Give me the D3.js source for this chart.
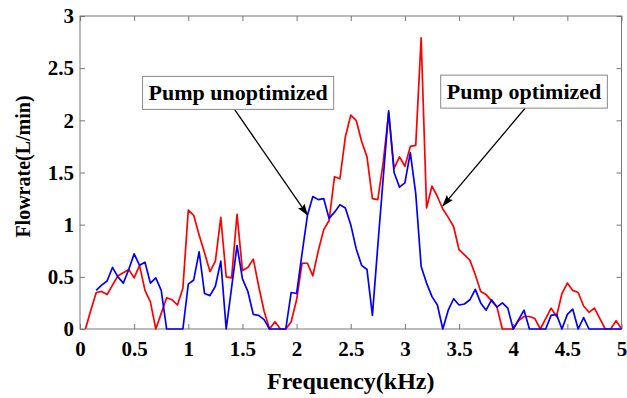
<!DOCTYPE html>
<html>
<head>
<meta charset="utf-8">
<script src="https://cdn.jsdelivr.net/npm/d3@7"></script>
<style>
  html, body { margin: 0; padding: 0; background: #fff; }
  svg { display: block; }
  text { font-family: "Liberation Serif", "Times New Roman", serif; font-weight: bold; }
</style>
</head>
<body>
<svg id="chart" width="627" height="398"></svg>
<script>
// ---- data ----
const freq = [0,0.05,0.1,0.15,0.2,0.25,0.3,0.35,0.4,0.45,0.5,0.55,0.6,0.65,0.7,0.75,0.8,0.85,0.9,0.95,
  1,1.05,1.1,1.15,1.2,1.25,1.3,1.35,1.4,1.45,1.5,1.55,1.6,1.65,1.7,1.75,1.8,1.85,1.9,1.95,
  2,2.05,2.1,2.15,2.2,2.25,2.3,2.35,2.4,2.45,2.5,2.55,2.6,2.65,2.7,2.75,2.8,2.85,2.9,2.95,
  3,3.05,3.1,3.15,3.2,3.25,3.3,3.35,3.4,3.45,3.5,3.55,3.6,3.65,3.7,3.75,3.8,3.85,3.9,3.95,
  4,4.05,4.1,4.15,4.2,4.25,4.3,4.35,4.4,4.45,4.5,4.55,4.6,4.65,4.7,4.75,4.8,4.85,4.9,4.95,5];

const optimized = [null,0,0.18,0.35,0.36,0.33,0.42,0.51,0.54,0.57,0.49,0.61,0.37,0.26,0,0.15,0.30,0.28,0.23,0.39,
  1.14,1.09,0.90,0.73,0.55,0.65,1.07,0.50,0.49,1.10,0.56,0.59,0.67,0.41,0.17,0,0.07,0,0,0.07,
  0.28,0.63,0.63,0.51,0.75,0.95,1.04,1.46,1.44,1.84,2.05,2.00,1.80,1.65,1.25,1.24,1.60,2.07,1.54,1.65,
  1.56,1.75,1.76,2.79,1.16,1.37,1.27,1.15,1.07,0.98,0.76,0.71,0.66,0.52,0.36,0.33,0.27,0.21,0,0,
  0,0.08,0.12,0.12,0.10,0,0.10,0.20,0.12,0.34,0.44,0.37,0.35,0.22,0.16,0.20,0.10,0,0,0.08,0];

const unoptimized = [null,null,null,0.37,0.42,0.46,0.59,0.50,0.44,0.57,0.72,0.61,0.64,0.44,0.49,0.37,0,0,0,0,
  0.43,0.47,0.74,0.34,0.32,0.41,0.65,0,0.40,0.80,0.48,0.36,0.14,0.13,0.09,0,0,0,0,0.35,
  0.34,0.72,1.09,1.27,1.24,1.25,1.06,1.12,1.19,1.16,1.00,0.77,0.61,0.57,0.13,0.80,1.45,2.09,1.50,1.36,
  1.40,1.69,1.30,0.60,0.44,0.31,0.23,0,0.18,0.29,0.23,0.24,0.28,0.38,0.25,0.18,0.28,0.21,0.25,0.20,
  0,0.09,0.18,0,0,0,0,0.13,0.14,0,0.14,0.19,0,0.11,0,0,0,0,0,0,0];

const xTicks = [0,0.5,1,1.5,2,2.5,3,3.5,4,4.5,5];
const yTicks = [0,0.5,1,1.5,2,2.5,3];

const annoLabels = ["Pump unoptimized", "Pump optimized"];
const annoCenter = [[1.46, 2.263], [4.10, 2.275]];
const arrowFrom  = [[1.43, 2.10], [4.11, 2.116]];
const arrowTo    = [[2.10, 1.093], [3.35, 1.18]];

// ---- drawing ----
const W = 627, H = 398;
const m = {l: 80, r: 5.5, t: 16, b: 69};
const svg = d3.select("#chart");
const x = d3.scaleLinear().domain([0, 5]).range([m.l, W - m.r]);
const y = d3.scaleLinear().domain([0, 3]).range([H - m.b, m.t]);
const axisColor = "#777";
const fmt = d3.format("");

// frame
svg.append("rect")
  .attr("x", x(0)).attr("y", y(3))
  .attr("width", x(5) - x(0)).attr("height", y(0) - y(3))
  .attr("fill", "none").attr("stroke", axisColor).attr("stroke-width", 1);

function styleAxis(g, showLabels) {
  g.select(".domain").remove();
  g.selectAll(".tick line").attr("stroke", axisColor);
  g.selectAll(".tick text")
    .attr("fill", "#000")
    .style("font-size", "21px")
    .style("font-family", '"Liberation Serif", "Times New Roman", serif')
    .style("font-weight", "bold");
  if (!showLabels) g.selectAll(".tick text").remove();
}

svg.append("g").attr("transform", `translate(0,${y(0)})`)
  .call(d3.axisBottom(x).tickValues(xTicks).tickFormat(fmt).tickSizeInner(-5).tickSizeOuter(0).tickPadding(12))
  .call(g => styleAxis(g, true));
svg.append("g").attr("transform", `translate(0,${y(3)})`)
  .call(d3.axisTop(x).tickValues(xTicks).tickSizeInner(-5).tickSizeOuter(0))
  .call(g => styleAxis(g, false));
svg.append("g").attr("transform", `translate(${x(0)},0)`)
  .call(d3.axisLeft(y).tickValues(yTicks).tickFormat(fmt).tickSizeInner(-5).tickSizeOuter(0).tickPadding(6))
  .call(g => styleAxis(g, true));
svg.append("g").attr("transform", `translate(${x(5)},0)`)
  .call(d3.axisRight(y).tickValues(yTicks).tickSizeInner(-5).tickSizeOuter(0))
  .call(g => styleAxis(g, false));

// lines
const line = d3.line()
  .defined(d => d[1] !== null)
  .x(d => x(d[0])).y(d => y(d[1]));

svg.append("path")
  .datum(freq.map((f, i) => [f, optimized[i]]))
  .attr("d", line).attr("fill", "none")
  .attr("stroke", "#ff0000").attr("stroke-width", 1.7).attr("stroke-linejoin", "round");

svg.append("path")
  .datum(freq.map((f, i) => [f, unoptimized[i]]))
  .attr("d", line).attr("fill", "none")
  .attr("stroke", "#0000ff").attr("stroke-width", 1.7).attr("stroke-linejoin", "round");

// axis titles
svg.append("text")
  .attr("x", (x(0) + x(5)) / 2).attr("y", 389)
  .attr("text-anchor", "middle")
  .style("font-size", "24px")
  .text("Frequency(kHz)");

svg.append("text")
  .attr("transform", `translate(30,${(y(0) + y(3)) / 2 - 6}) rotate(-90)`)
  .attr("text-anchor", "middle")
  .style("font-size", "20px")
  .text("Flowrate(L/min)");

// arrows
const defs = svg.append("defs");
defs.append("marker")
  .attr("id", "arrow").attr("markerUnits", "userSpaceOnUse")
  .attr("viewBox", "0 0 12 8").attr("refX", 11).attr("refY", 4)
  .attr("markerWidth", 12).attr("markerHeight", 8).attr("orient", "auto")
  .append("path").attr("d", "M0,0 L12,4 L0,8 L2,4 Z").attr("fill", "#000");

annoLabels.forEach((lab, i) => {
  svg.append("line")
    .attr("x1", x(arrowFrom[i][0])).attr("y1", y(arrowFrom[i][1]))
    .attr("x2", x(arrowTo[i][0])).attr("y2", y(arrowTo[i][1]))
    .attr("stroke", "#000").attr("stroke-width", 1.3)
    .attr("marker-end", "url(#arrow)");
});

annoLabels.forEach((lab, i) => {
  const g = svg.append("g");
  const cx = x(annoCenter[i][0]), cy = y(annoCenter[i][1]);
  const rect = g.append("rect");
  const t = g.append("text")
    .attr("x", cx).attr("y", cy + 7)
    .attr("text-anchor", "middle")
    .style("font-size", "22px")
    .text(lab);
  const bb = t.node().getBBox();
  rect.attr("x", bb.x - 6).attr("y", cy - 16.5)
    .attr("width", bb.width + 12).attr("height", 33)
    .attr("fill", "#fff").attr("stroke", "#888").attr("stroke-width", 1);
});
</script>
</body>
</html>
